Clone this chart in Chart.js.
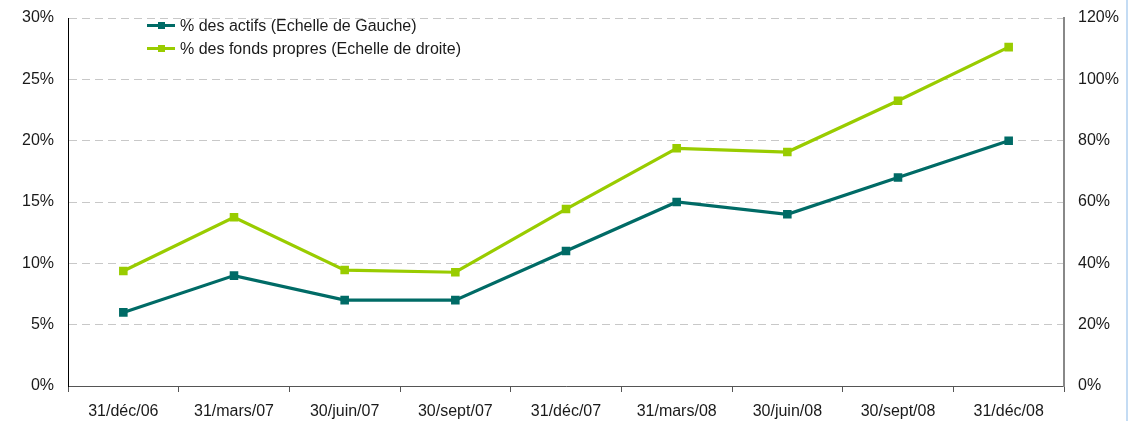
<!DOCTYPE html>
<html>
<head>
<meta charset="utf-8">
<script src="https://cdn.jsdelivr.net/npm/chart.js@4/dist/chart.umd.min.js"></script>
<style>
  html, body { margin: 0; padding: 0; background: #fff; }
  #wrap { position: relative; width: 1129px; height: 421px; }
  #legend { position: absolute; left: 147px; top: 14px; font-family: "Liberation Sans", Arial, sans-serif; font-size: 16px; color: #1a1a1a; }
  .item { position: relative; height: 23px; line-height: 23px; padding-left: 33px; white-space: nowrap; }
  .item .ln { position: absolute; left: 0; top: 10px; width: 28px; height: 3px; }
  .item .mk { position: absolute; left: 11px; top: 8px; width: 7px; height: 7px; }
  #edge { position: absolute; left: 1126px; top: 0; width: 2px; height: 421px; background: #c4dcf4; }
</style>
</head>
<body>
<div id="wrap">
  <canvas id="c" width="1129" height="421"></canvas>
  <div id="legend"></div>
  <div id="edge"></div>
</div>
<script>
const categories = ["31/déc/06","31/mars/07","30/juin/07","30/sept/07","31/déc/07","31/mars/08","30/juin/08","30/sept/08","31/déc/08"];
const seriesNames = ["% des actifs (Echelle de Gauche)", "% des fonds propres (Echelle de droite)"];
const actifs = [6, 9, 7, 7, 11, 15, 14, 17, 20];
const fondsPropres = [37.5, 55, 37.8, 37.1, 57.7, 77.5, 76.3, 93, 110.5];
const colors = ["#006b66", "#99cc00"];

const FONT = { family: "'Liberation Sans', Arial, sans-serif", size: 16 };

new Chart(document.getElementById('c'), {
  type: 'line',
  data: {
    labels: categories,
    datasets: [
      { label: seriesNames[0], data: actifs, yAxisID: 'y', borderColor: colors[0], backgroundColor: colors[0],
        borderWidth: 3.2, pointStyle: 'rect', pointRadius: 3.8, tension: 0 },
      { label: seriesNames[1], data: fondsPropres, yAxisID: 'y1', borderColor: colors[1], backgroundColor: colors[1],
        borderWidth: 3.2, pointStyle: 'rect', pointRadius: 3.8, tension: 0 }
    ]
  },
  options: {
    responsive: false,
    animation: false,
    layout: { padding: { top: 18, left: 0, right: 0, bottom: 0 } },
    plugins: { legend: { display: false }, tooltip: { enabled: false } },
    scales: {
      x: {
        offset: true,
        grid: { display: true, offset: true, drawOnChartArea: false, drawTicks: true, tickLength: 6, color: '#555' },
        border: { display: true, color: '#555', width: 1 },
        ticks: { font: FONT, color: '#1a1a1a', padding: 10, maxRotation: 0, autoSkip: false },
        afterFit: s => { s.height = 35; s.paddingLeft = 0; s.paddingRight = 0; }
      },
      y: {
        position: 'left', min: 0, max: 30,
        grid: { color: '#c8c8c8', drawTicks: false, lineWidth: 1 },
        border: { display: true, color: '#000', width: 1, dash: [8, 5] },
        ticks: { stepSize: 5, font: FONT, color: '#1a1a1a', padding: 14, callback: v => v + '%' },
        afterFit: s => { s.width = 68; s.paddingTop = 0; s.paddingBottom = 0; }
      },
      y1: {
        position: 'right', min: 0, max: 120,
        grid: { drawOnChartArea: false, drawTicks: false },
        border: { display: true, color: '#888', width: 2 },
        ticks: { stepSize: 20, font: FONT, color: '#1a1a1a', padding: 14, callback: v => v + '%' },
        afterFit: s => { s.width = 65; s.paddingTop = 0; s.paddingBottom = 0; }
      }
    }
  }
});

const lg = document.getElementById('legend');
seriesNames.forEach((n, i) => {
  const d = document.createElement('div');
  d.className = 'item';
  d.innerHTML = '<span class="ln" style="background:' + colors[i] + '"></span><span class="mk" style="background:' + colors[i] + '"></span>';
  d.appendChild(document.createTextNode(n));
  lg.appendChild(d);
});
</script>
</body>
</html>
